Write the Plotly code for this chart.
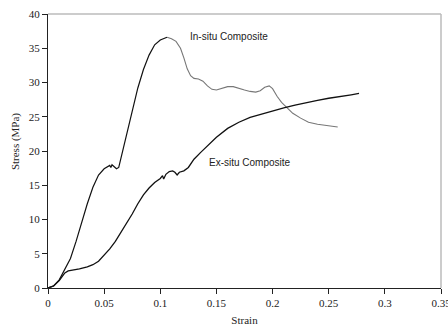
import plotly.graph_objects as go

# In-situ composite (strain, stress MPa)
in_situ_strain = [0, 0.005, 0.010, 0.015, 0.020, 0.025, 0.030, 0.035, 0.040, 0.045,
                  0.050, 0.053, 0.055, 0.056, 0.057, 0.059, 0.061, 0.063, 0.066, 0.070,
                  0.075, 0.080, 0.085, 0.090, 0.095, 0.100, 0.106, 0.110, 0.114, 0.118,
                  0.121, 0.124, 0.127, 0.130, 0.134, 0.138, 0.142, 0.146, 0.150, 0.155,
                  0.160, 0.165, 0.170, 0.175, 0.180, 0.185, 0.189, 0.193, 0.197, 0.200,
                  0.204, 0.208, 0.213, 0.218, 0.225, 0.232, 0.240, 0.250, 0.258]
in_situ_stress = [0, 0.3, 1.2, 2.7, 4.3, 6.8, 9.6, 12.3, 14.7, 16.5,
                  17.4, 17.7, 17.9, 17.6, 18.0, 17.7, 17.4, 17.6, 19.6, 22.4,
                  25.9, 29.2, 31.9, 34.0, 35.5, 36.2, 36.6, 36.4, 36.0, 35.0,
                  33.6, 32.0, 31.0, 30.6, 30.5, 30.2, 29.5, 29.0, 28.9, 29.2,
                  29.4, 29.4, 29.1, 28.9, 28.7, 28.6, 28.8, 29.3, 29.5, 29.1,
                  28.0, 27.1, 26.3, 25.5, 24.8, 24.2, 23.9, 23.7, 23.5]
peak_index = 26

# Ex-situ composite (strain, stress MPa)
ex_situ_strain = [0, 0.005, 0.010, 0.015, 0.018, 0.022, 0.028, 0.035, 0.040, 0.045,
                  0.050, 0.055, 0.060, 0.065, 0.070, 0.075, 0.080, 0.085, 0.090, 0.095,
                  0.100, 0.102, 0.103, 0.105, 0.108, 0.111, 0.113, 0.115, 0.117, 0.121,
                  0.125, 0.130, 0.136, 0.142, 0.150, 0.160, 0.170, 0.180, 0.190, 0.200,
                  0.210, 0.220, 0.230, 0.240, 0.250, 0.260, 0.270, 0.277]
ex_situ_stress = [0, 0.3, 1.1, 2.2, 2.5, 2.6, 2.8, 3.1, 3.4, 3.9,
                  4.8, 5.7, 6.8, 8.1, 9.4, 10.8, 12.3, 13.6, 14.6, 15.4,
                  16.0, 16.4, 15.9, 16.6, 17.0, 17.1, 16.9, 16.5, 16.9, 17.1,
                  17.6, 18.8, 19.8, 20.8, 22.0, 23.3, 24.2, 24.9, 25.4, 25.9,
                  26.3, 26.7, 27.1, 27.4, 27.7, 27.9, 28.2, 28.4]

x_ticks = [0, 0.05, 0.1, 0.15, 0.2, 0.25, 0.3, 0.35]
x_tick_labels = ["0", "0.05", "0.1", "0.15", "0.2", "0.25", "0.3", "0.35"]
y_ticks = [0, 5, 10, 15, 20, 25, 30, 35, 40]

fig = go.Figure()
fig.add_trace(go.Scatter(x=in_situ_strain[:peak_index + 1], y=in_situ_stress[:peak_index + 1],
                         mode="lines", line=dict(color="#111111", width=1.2),
                         showlegend=False, hoverinfo="skip"))
fig.add_trace(go.Scatter(x=in_situ_strain[peak_index:], y=in_situ_stress[peak_index:],
                         mode="lines", line=dict(color="#777777", width=1.1),
                         showlegend=False, hoverinfo="skip"))
fig.add_trace(go.Scatter(x=ex_situ_strain, y=ex_situ_stress,
                         mode="lines", line=dict(color="#111111", width=1.3),
                         showlegend=False, hoverinfo="skip"))

fig.add_annotation(x=0.125, y=36.7, text="In-situ Composite", showarrow=False,
                   xanchor="left", yanchor="middle",
                   font=dict(family="Liberation Sans", size=10, color="#222222"))
fig.add_annotation(x=0.142, y=18.3, text="Ex-situ Composite", showarrow=False,
                   xanchor="left", yanchor="middle",
                   font=dict(family="Liberation Sans", size=10, color="#222222"))
# y-axis title
fig.add_annotation(xref="paper", yref="paper", x=-0.084, y=0.536, text="Stress (MPa)",
                   textangle=-90, showarrow=False, xanchor="center", yanchor="middle",
                   font=dict(family="Liberation Serif", size=11, color="#222222"))

fig.update_layout(
    width=448, height=326,
    margin=dict(l=48, r=7, t=14, b=38),
    paper_bgcolor="white", plot_bgcolor="white",
    font=dict(family="Liberation Serif", size=11, color="#222222"),
    xaxis=dict(range=[0, 0.35], tickvals=x_ticks, ticktext=x_tick_labels,
               automargin=False, ticklabeloverflow="allow",
               showgrid=False, zeroline=False, showline=True, linecolor="#222222",
               linewidth=1, ticks="outside", ticklen=5, tickcolor="#222222",
               mirror=False, title=dict(text="Strain", standoff=9,
                                        font=dict(family="Liberation Serif", size=11))),
    yaxis=dict(range=[0, 40], tickvals=y_ticks, showgrid=False, zeroline=False,
               automargin=False, ticklabeloverflow="allow",
               showline=True, linecolor="#222222", linewidth=1, ticks="outside",
               ticklen=5, tickcolor="#222222"),
    shapes=[
        dict(type="line", xref="paper", yref="paper", x0=0, x1=1, y0=1, y1=1,
             line=dict(color="#999999", width=1)),
        dict(type="line", xref="paper", yref="paper", x0=1, x1=1, y0=0, y1=1,
             line=dict(color="#bbbbbb", width=1.5)),
    ],
)

fig.write_html("out.html", config={"displayModeBar": False},
               post_script="document.body.style.margin='0';")
